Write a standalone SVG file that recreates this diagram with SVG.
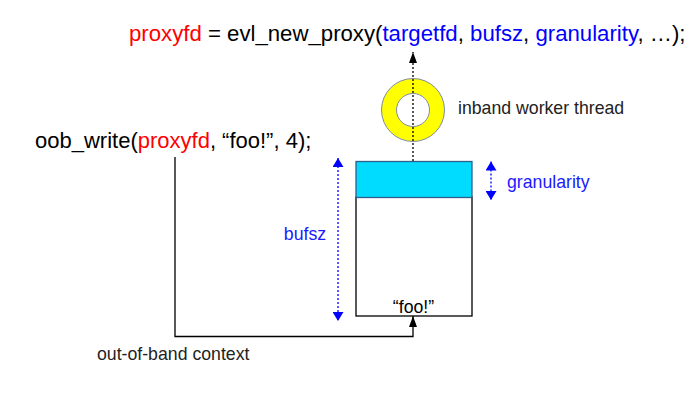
<svg xmlns="http://www.w3.org/2000/svg" width="700" height="400" viewBox="0 0 700 400">
<style>
text{font-family:"Liberation Sans",Arial,sans-serif}
.code{font-size:22px;fill:#000}
.red{fill:#ff0000}
.blue{fill:#0000ff}
.lbl{font-size:17.7px;fill:#222}
.blbl{font-size:17.7px;fill:#1a1aff}
.dot{fill:none;stroke-width:1.3;stroke-dasharray:2 2}
.solid{fill:none;stroke:#000;stroke-width:1.3}
</style>
<defs>
<marker id="ab" viewBox="0 0 11 8" refX="11" refY="4" markerWidth="11" markerHeight="8" markerUnits="userSpaceOnUse" orient="auto-start-reverse"><path d="M0,0 L11,4 L0,8 z" fill="#000"/></marker>
<marker id="au" viewBox="0 0 9 11" refX="9" refY="5.5" markerWidth="9" markerHeight="11" markerUnits="userSpaceOnUse" orient="auto-start-reverse"><path d="M0,0 L9,5.5 L0,11 z" fill="#0000ff"/></marker>
</defs>
<g id="call">
<text class="code" x="129" y="41" style="font-size:22.2px"><tspan class="red">proxyfd</tspan> = evl_new_proxy(<tspan class="blue">targetfd</tspan>, <tspan class="blue">bufsz</tspan>, <tspan class="blue">granularity</tspan>, …);</text>
</g>
<g id="oob">
<text class="code" x="35" y="148">oob_write(<tspan class="red">proxyfd</tspan>, “foo!”, 4);</text>
</g>
<g id="worker">
<circle cx="413" cy="110" r="31.5" fill="#ffff00" stroke="#7f8c9f" stroke-width="1"/>
<circle cx="413" cy="110" r="16.5" fill="#fff" stroke="#7f8c9f" stroke-width="1"/>
<text class="lbl" x="458" y="114">inband worker thread</text>
</g>
<g id="buffer">
<rect x="356" y="197" width="116" height="119" fill="#fff" stroke="#000" stroke-width="1.3"/>
<rect x="356" y="161.5" width="116" height="36" fill="#00dcff" stroke="#2e5f8a" stroke-width="1.3"/>
<text x="413.5" y="312.5" text-anchor="middle" font-size="17.7" fill="#000">“foo!”</text>
</g>
<g id="bufsz-label"><text class="blbl" x="305" y="240" text-anchor="middle">bufsz</text></g>
<g id="gran-label"><text class="blbl" x="507" y="188">granularity</text></g>
<g id="oob-label"><text class="lbl" x="97" y="360">out-of-band context</text></g>
<g id="connectors">
<path class="dot" stroke="#000" d="M413,161 L413,52" marker-end="url(#ab)"/>
<path class="solid" d="M175,157 L175,336.5 L413,336.5 L413,316" marker-end="url(#ab)"/>
<path class="dot" stroke="#0000ff" d="M338,158 L338,321" marker-start="url(#au)" marker-end="url(#au)"/>
<path class="dot" stroke="#0000ff" d="M491,161.5 L491,200" marker-start="url(#au)" marker-end="url(#au)"/>
</g>
</svg>
